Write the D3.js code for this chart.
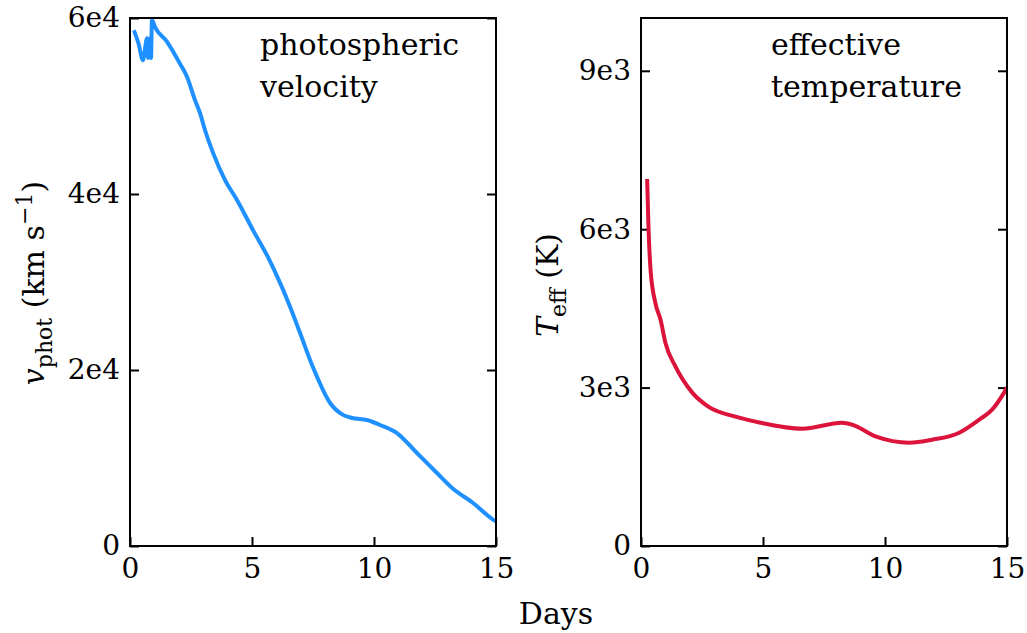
<!DOCTYPE html>
<html>
<head>
<meta charset="utf-8">
<script src="https://cdn.jsdelivr.net/npm/d3@7"></script>
<style>
  body { margin: 0; background: #fff; }
  text { font-family: 'DejaVu Serif', serif; fill: #000; }
</style>
</head>
<body>
<div id="chart"></div>
<script>
// photospheric velocity (km/s) vs days
const velDays = [0.16, 0.35, 0.53, 0.70, 0.74, 0.82, 0.86, 0.90, 1.02, 1.52, 2.05, 2.34, 2.66, 2.87, 3.07, 3.40, 3.89, 4.39, 5.04, 5.66, 6.15, 6.56, 6.97, 7.5, 8.2, 8.73, 9.1, 9.71, 10.25, 10.94, 11.76, 12.58, 13.24, 14.06, 14.88, 15.0];
const velVals = [58600, 57100, 55200, 57700, 55450, 57700, 55450, 59800, 59000, 57300, 54800, 53300, 50700, 49200, 47300, 44700, 41600, 39300, 35900, 32800, 29900, 27200, 24200, 20300, 16250, 14900, 14550, 14320, 13750, 12840, 10570, 8300, 6500, 4890, 3000, 2800];

// effective temperature (K) vs days
const tempDays = [0.25, 0.31, 0.39, 0.59, 0.80, 1.0, 1.41, 2.1, 2.76, 3.87, 4.85, 6.6, 8.24, 8.66, 9.64, 10.99, 11.93, 13.04, 13.86, 14.39, 14.88, 15.0];
const tempVals = [6950, 6000, 5240, 4600, 4290, 3850, 3400, 2905, 2640, 2450, 2340, 2222, 2335, 2297, 2070, 1956, 2013, 2146, 2392, 2582, 2905, 3000];

const xTicks = [0, 5, 10, 15];
const velTicks = [0, 20000, 40000, 60000];
const velTickLabels = ['0', '2e4', '4e4', '6e4'];
const tempTicks = [0, 3000, 6000, 9000];
const tempTickLabels = ['0', '3e3', '6e3', '9e3'];

const W = 1027, H = 633;
const plotTop = 18, plotBottom = 546;

const svg = d3.select('#chart').append('svg')
  .attr('width', W).attr('height', H);

const panel = function(opt){
  const x = d3.scaleLinear().domain([0, 15]).range([opt.x0, opt.x1]);
  const y = d3.scaleLinear().domain(opt.yDomain).range([plotBottom, plotTop]);
  const g = svg.append('g');

  // clip
  const cid = 'clip-' + opt.id;
  svg.append('clipPath').attr('id', cid).append('rect')
    .attr('x', opt.x0).attr('y', plotTop).attr('width', opt.x1 - opt.x0).attr('height', plotBottom - plotTop);

  // x axis, ticks inward on bottom only
  const xa = g.append('g').attr('transform', `translate(0, ${plotBottom})`)
    .call(d3.axisBottom(x).tickValues(xTicks).tickFormat(d3.format('d')).tickSizeInner(-9).tickSizeOuter(0).tickPadding(12));
  xa.select('.domain').remove();
  xa.selectAll('line').attr('stroke', '#000').attr('stroke-width', 2);
  xa.selectAll('text').attr('font-size', 28).attr('font-family', 'DejaVu Serif');

  // y axis left
  const ya = g.append('g').attr('transform', `translate(${opt.x0}, 0)`)
    .call(d3.axisLeft(y).tickValues(opt.ticks).tickFormat((d, i) => opt.tickLabels[i]).tickSizeInner(-9).tickSizeOuter(0).tickPadding(10));
  ya.select('.domain').remove();
  ya.selectAll('line').attr('stroke', '#000').attr('stroke-width', 2);
  ya.selectAll('text').attr('font-size', 28).attr('font-family', 'DejaVu Serif');

  // y ticks right (no labels)
  const yr = g.append('g').attr('transform', `translate(${opt.x1}, 0)`)
    .call(d3.axisRight(y).tickValues(opt.ticks).tickFormat('').tickSizeInner(-9).tickSizeOuter(0));
  yr.select('.domain').remove();
  yr.selectAll('line').attr('stroke', '#000').attr('stroke-width', 2);

  // the curve
  const line = d3.line().x(d => x(d[0])).y(d => y(d[1])).curve(d3.curveMonotoneX);
  g.append('path').datum(d3.zip(opt.days, opt.vals))
    .attr('clip-path', `url(#${cid})`)
    .attr('fill', 'none').attr('stroke', opt.color).attr('stroke-width', 4)
    .attr('stroke-linejoin', 'round')
    .attr('d', line);

  // frame
  g.append('rect').attr('x', opt.x0).attr('y', plotTop)
    .attr('width', opt.x1 - opt.x0).attr('height', plotBottom - plotTop)
    .attr('fill', 'none').attr('stroke', '#000').attr('stroke-width', 2);

  // label inside
  const t = g.append('text').attr('font-size', 30);
  opt.title.forEach((s, i) => {
    t.append('tspan').attr('x', opt.titleX).attr('y', 55 + i * 42).text(s);
  });
  return g;
};

panel({id: 'vel', x0: 130, x1: 496, yDomain: [0, 60000], ticks: velTicks, tickLabels: velTickLabels,
  days: velDays, vals: velVals, color: '#1e90ff', title: ['photospheric', 'velocity'], titleX: 260});
panel({id: 'temp', x0: 641, x1: 1007, yDomain: [0, 10000], ticks: tempTicks, tickLabels: tempTickLabels,
  days: tempDays, vals: tempVals, color: '#dc143c', title: ['effective', 'temperature'], titleX: 771});

// y labels
const yl1 = svg.append('text').attr('font-size', 30).attr('text-anchor', 'middle')
  .attr('transform', 'translate(44, 283) rotate(-90)');
yl1.append('tspan').attr('font-style', 'italic').text('v');
yl1.append('tspan').attr('font-size', 22).attr('dy', 8).text('phot');
yl1.append('tspan').attr('dy', -8).text(' (km s');
yl1.append('tspan').attr('font-size', 22).attr('dy', -12).text('−1');
yl1.append('tspan').attr('dy', 12).text(')');

const yl2 = svg.append('text').attr('font-size', 30).attr('text-anchor', 'middle')
  .attr('transform', 'translate(558, 285) rotate(-90)');
yl2.append('tspan').attr('font-style', 'italic').text('T');
yl2.append('tspan').attr('font-size', 22).attr('dy', 8).text('eff');
yl2.append('tspan').attr('dy', -8).text(' (K)');

// x label
svg.append('text').attr('x', 556).attr('y', 624).attr('text-anchor', 'middle')
  .attr('font-size', 30).text('Days');
</script>
</body>
</html>
